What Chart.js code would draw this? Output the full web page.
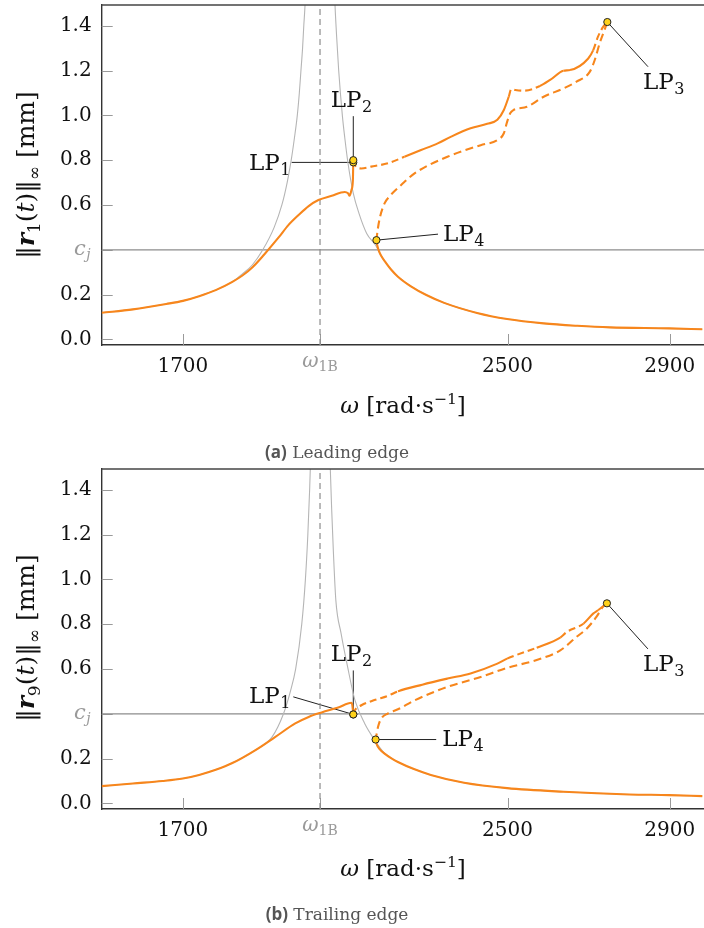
<!DOCTYPE html>
<html><head><meta charset="utf-8">
<script src="https://cdn.jsdelivr.net/npm/chart.js@4.4.1/dist/chart.umd.min.js"></script>
<style>
html,body{margin:0;padding:0;background:#fff;}
body{width:704px;height:928px;overflow:hidden;position:relative;font-family:'DejaVu Serif',serif;}
.wrap{position:absolute;left:0;width:715px;height:420px;}
.ytitle{position:absolute;white-space:nowrap;transform:translate(-50%,-50%) rotate(-90deg);font-size:25px;color:#111;}
.xtitle{position:absolute;white-space:nowrap;transform:translate(-50%,-50%);font-size:23px;color:#111;}
.cap{position:absolute;white-space:nowrap;transform:translate(-50%,-50%);font-size:17px;color:#555;}
.cap b{font-family:'Open Sans',sans-serif;font-weight:700;}
sub,sup{font-size:68%;line-height:0;}
</style></head>
<body>
<div class="wrap" style="top:0"><canvas id="cA" width="715" height="420"></canvas></div>
<div class="wrap" style="top:464px"><canvas id="cB" width="715" height="420"></canvas></div>

<div class="ytitle" style="left:25px;top:175px">‖<b><i>r</i></b><sub>1</sub>(<i>t</i>)‖<sub>∞</sub> [mm]</div>
<div class="xtitle" style="left:403px;top:405px"><i>ω</i> [rad·s<sup>−1</sup>]</div>
<div class="cap" style="left:337px;top:451px"><b>(a)</b> Leading edge</div>

<div class="ytitle" style="left:25px;top:638px">‖<b><i>r</i></b><sub>9</sub>(<i>t</i>)‖<sub>∞</sub> [mm]</div>
<div class="xtitle" style="left:403px;top:868px"><i>ω</i> [rad·s<sup>−1</sup>]</div>
<div class="cap" style="left:337px;top:913px"><b>(b)</b> Trailing edge</div>

<script>
// ---------- axis / tick data ----------
const omega1B = 2038;
const cj = 0.4;
const xTickValues = [1700, 2038, 2500, 2900];
const yTickValues = [0, 0.2, 0.4, 0.6, 0.8, 1.0, 1.2, 1.4];
const xRange = [1500, 3000];
const yRange = [-0.025, 1.4925];

// ---------- (a) leading edge, r1 ----------
const topLinearLeft = [[1500,0.119],[1577,0.134],[1659,0.158],[1700,0.172],[1740,0.193],[1781,0.220],[1822,0.257],[1846,0.2915],[1871,0.332],[1897,0.40],[1925,0.50],[1944,0.60],[1957,0.70],[1967,0.80],[1975,0.90],[1982,1.0],[1987,1.1],[1991,1.2],[1995,1.3],[1998,1.4],[2001,1.49],[2006,1.75]];
const topLinearRight = [[2070,1.75],[2075,1.49],[2079,1.35],[2084,1.2],[2093,1.0],[2099,0.9],[2107,0.786],[2120,0.652],[2134,0.5625],[2153,0.473],[2175,0.42],[2189,0.372],[2200,0.343],[2213,0.312],[2230,0.280],[2262,0.237],[2300,0.198],[2344,0.163],[2425,0.118],[2499,0.091],[2589,0.0714],[2672,0.0607],[2752,0.0536],[2898,0.049],[2980,0.045]];
const topMain = [[1500,0.119],[1577,0.134],[1659,0.158],[1700,0.172],[1740,0.193],[1781,0.220],[1822,0.257],[1846,0.284],[1871,0.321],[1900,0.378],[1936,0.455],[1960,0.51],[1985,0.555],[2010,0.595],[2034,0.622],[2067,0.641],[2099,0.658],[2107,0.652],[2111,0.641],[2115.5,0.667],[2119,0.711],[2119.7,0.770],[2120,0.790]];
const topUpper = [[2120,0.800],[2125,0.775],[2140,0.763],[2164,0.771],[2205,0.786],[2246,0.815],[2287,0.845],[2328,0.875],[2360,0.904],[2409,0.942],[2450,0.962],[2475,0.980],[2491,1.024],[2503,1.083],[2509,1.116],[2519,1.113],[2540,1.110],[2580,1.131],[2605,1.158],[2638,1.199],[2654,1.202],[2699,1.254],[2711,1.29],[2723,1.351],[2736,1.396],[2746,1.4165]];
const topLower = [[2746,1.4165],[2739,1.381],[2727,1.321],[2715,1.247],[2703,1.195],[2670,1.15],[2638,1.12],[2589,1.083],[2548,1.038],[2515,1.024],[2507,1.010],[2499,0.971],[2491,0.92],[2475,0.89],[2434,0.867],[2352,0.815],[2271,0.741],[2238,0.689],[2210,0.64],[2197,0.607],[2186,0.547],[2180,0.488],[2177,0.443]];
const topReturn = [[2177,0.443],[2179,0.42],[2183,0.395],[2189,0.372],[2200,0.343],[2213,0.312],[2230,0.280],[2262,0.237],[2300,0.198],[2344,0.163],[2425,0.118],[2499,0.091],[2589,0.0714],[2672,0.0607],[2752,0.0536],[2898,0.049],[2980,0.045]];
const topUnstable = [[2120,2228],[2505,2578],[2636,2660],[2712,2746]];
const topLP = [[2120,0.790],[2120,0.800],[2746,1.4165],[2177,0.443]];

// ---------- (b) trailing edge, r9 ----------
const botLinearLeft = [[1500,0.077],[1577,0.089],[1650,0.100],[1700,0.111],[1740,0.127],[1781,0.150],[1822,0.180],[1879,0.238],[1920,0.297],[1948,0.40],[1965,0.50],[1978,0.60],[1993,0.80],[2002,1.0],[2008,1.2],[2012.4,1.4],[2014,1.49],[2017,1.75]];
const botLinearRight = [[2060,1.75],[2063.4,1.49],[2067,1.3],[2071,1.12],[2077,0.906],[2090,0.758],[2106,0.609],[2124,0.461],[2148,0.357],[2173,0.282],[2197,0.224],[2230,0.185],[2271,0.152],[2311,0.127],[2393,0.092],[2499,0.068],[2638,0.052],[2800,0.040],[2898,0.037],[2980,0.0325]];
const botMain = [[1500,0.077],[1577,0.089],[1650,0.100],[1700,0.111],[1740,0.127],[1781,0.150],[1822,0.180],[1879,0.238],[1928,0.297],[1977,0.357],[2010,0.386],[2042,0.406],[2083,0.428],[2115.5,0.449],[2117.5,0.440],[2120,0.397]];
const botUpper = [[2120,0.397],[2124,0.416],[2140,0.438],[2172,0.461],[2205,0.48],[2230,0.50],[2290,0.53],[2352,0.557],[2409,0.58],[2475,0.624],[2499,0.646],[2572,0.695],[2630,0.74],[2646,0.765],[2687,0.802],[2711,0.847],[2723,0.862],[2745,0.893]];
const botLower = [[2745,0.893],[2735,0.877],[2719,0.832],[2695,0.78],[2670,0.743],[2630,0.683],[2572,0.64],[2499,0.605],[2434,0.564],[2352,0.52],[2271,0.46],[2230,0.42],[2205,0.401],[2189,0.379],[2181,0.342],[2177,0.304],[2175,0.285]];
const botReturn = [[2175,0.285],[2178,0.262],[2186,0.240],[2197,0.222],[2215,0.200],[2230,0.185],[2271,0.152],[2311,0.127],[2393,0.092],[2499,0.068],[2638,0.052],[2800,0.040],[2898,0.037],[2980,0.0325]];
const botUnstable = [[2120,2230],[2492,2572],[2638,2670],[2719,2746]];
const botLP = [[2120,0.397],[2120,0.397],[2745,0.893],[2175,0.285]];

const lpNames = ['1','2','3','4'];

// ---------- styling (pixel offsets of labels relative to LP markers) ----------
const ORANGE = '#f7861c';
const GRAYLIN = '#b5b5b5';
const REF = '#8c8c8c';
const topLabelLayout = [
  {lead:[-61.7,0], tx:-63.3, ty:7.6, align:'right'},
  {lead:[0,-44], tx:-2, ty:-53.3, align:'center'},
  {lead:[40.7,44.7], tx:35.7, ty:67.3, align:'left'},
  {lead:[61.6,-6], tx:66.6, ty:1, align:'left'}
];
const botLabelLayout = [
  {lead:[-60,-17.6], tx:-63.3, ty:-11, align:'right'},
  {lead:[0,-44], tx:-2, ty:-53.3, align:'center'},
  {lead:[41,45.6], tx:36, ty:68, align:'left'},
  {lead:[60.6,0], tx:66.6, ty:6.7, align:'left'}
];

const toXY = a => a.map(([x,y]) => ({x, y}));
const inRanges = (v, ranges) => ranges.some(([a,b]) => v >= a && v <= b);

function lineDS(points, color, width, order, extra) {
  return Object.assign({
    data: toXY(points), showLine: true, borderColor: color, backgroundColor: color,
    borderWidth: width, pointRadius: 0, pointHoverRadius: 0, order: order,
    cubicInterpolationMode: 'monotone', fill: false
  }, extra || {});
}

function drawLPLabel(ctx, x, y, num, align) {
  ctx.save();
  ctx.fillStyle = '#111';
  ctx.textBaseline = 'alphabetic';
  ctx.font = '23px "DejaVu Serif"';
  const w1 = ctx.measureText('LP').width;
  ctx.font = '16px "DejaVu Serif"';
  const w2 = ctx.measureText(num).width;
  const tot = w1 + w2;
  let x0 = x;
  if (align === 'right') x0 = x - tot;
  else if (align === 'center') x0 = x - tot / 2;
  ctx.textAlign = 'left';
  ctx.font = '23px "DejaVu Serif"';
  ctx.fillText('LP', x0, y);
  ctx.font = '16px "DejaVu Serif"';
  ctx.fillText(num, x0 + w1 + 0.5, y + 5);
  ctx.restore();
}

function makeDecor(lps, layout) {
  return {
    id: 'decor',
    beforeDatasetsDraw(chart) {
      const {ctx, chartArea: ca, scales: {x, y}} = chart;
      ctx.save();
      ctx.strokeStyle = '#9a9a9a';
      ctx.lineWidth = 1;
      xTickValues.forEach(v => {
        const px = Math.round(x.getPixelForValue(v)) + 0.5;
        ctx.beginPath(); ctx.moveTo(px, ca.bottom); ctx.lineTo(px, ca.bottom - 11); ctx.stroke();
      });
      yTickValues.forEach(v => {
        const py = Math.round(y.getPixelForValue(v)) + 0.5;
        ctx.beginPath(); ctx.moveTo(ca.left, py); ctx.lineTo(ca.left + 11, py); ctx.stroke();
      });
      ctx.strokeStyle = '#222';
      ctx.lineWidth = 1;
      lps.forEach((p, i) => {
        const px = x.getPixelForValue(p[0]), py = y.getPixelForValue(p[1]);
        const L = layout[i];
        ctx.beginPath(); ctx.moveTo(px, py); ctx.lineTo(px + L.lead[0], py + L.lead[1]); ctx.stroke();
      });
      ctx.restore();
    },
    afterDraw(chart) {
      const {ctx, chartArea: ca, scales: {x, y}} = chart;
      ctx.save();
      ctx.strokeStyle = '#444'; ctx.lineWidth = 1.4;
      ctx.beginPath(); ctx.moveTo(ca.left, ca.top); ctx.lineTo(ca.right, ca.top); ctx.stroke();
      lps.forEach((p, i) => {
        const px = x.getPixelForValue(p[0]), py = y.getPixelForValue(p[1]);
        const L = layout[i];
        drawLPLabel(ctx, px + L.tx, py + L.ty, lpNames[i], L.align);
      });
      ctx.fillStyle = '#9a9a9a';
      ctx.textBaseline = 'alphabetic';
      const cy = y.getPixelForValue(cj);
      ctx.font = 'italic 14px "DejaVu Serif"';
      const wj = ctx.measureText('j').width;
      ctx.textAlign = 'right';
      ctx.fillText('j', ca.left - 11, cy + 9);
      ctx.font = 'italic 21px "DejaVu Serif"';
      ctx.fillText('c', ca.left - 11 - wj - 0.5, cy + 5.5);
      const ox = x.getPixelForValue(omega1B);
      ctx.font = 'italic 20px "DejaVu Serif"';
      const wo = ctx.measureText('ω').width;
      ctx.font = '14px "DejaVu Serif"';
      const ws = ctx.measureText('1B').width;
      const x0 = ox - (wo + ws) / 2;
      ctx.textAlign = 'left';
      ctx.font = 'italic 20px "DejaVu Serif"';
      ctx.fillText('ω', x0, ca.bottom + 21.5);
      ctx.font = '14px "DejaVu Serif"';
      ctx.fillText('1B', x0 + wo, ca.bottom + 26);
      ctx.restore();
    }
  };
}

function build(id, d) {
  const datasets = [
    lineDS(d.lp, '#222', 1, 0, {showLine: false, pointRadius: 3.6, pointBackgroundColor: '#ffd21a', pointBorderColor: '#222', pointBorderWidth: 1}),
    lineDS(d.main, ORANGE, 2.1, 1),
    lineDS(d.upper, ORANGE, 2.1, 1, {segment: {borderDash: c => inRanges((c.p0.parsed.x + c.p1.parsed.x) / 2, d.unstable) ? [7, 4] : undefined}}),
    lineDS(d.lower, ORANGE, 2.1, 1, {borderDash: [8, 4.5]}),
    lineDS(d.ret, ORANGE, 2.1, 1),
    lineDS(d.linL, GRAYLIN, 1.1, 3),
    lineDS(d.linR, GRAYLIN, 1.1, 3),
    lineDS([[xRange[0], cj], [xRange[1], cj]], REF, 1.3, 4, {cubicInterpolationMode: 'default', tension: 0}),
    lineDS([[omega1B, yRange[0]], [omega1B, yRange[1]]], REF, 1.2, 4, {cubicInterpolationMode: 'default', tension: 0, borderDash: [6, 4]})
  ];
  const tickFont = {family: 'DejaVu Serif', size: 20};
  return new Chart(document.getElementById(id), {
    type: 'scatter',
    data: {datasets},
    options: {
      responsive: false, animation: false, devicePixelRatio: 1,
      layout: {padding: {top: 5, left: 0, right: 0, bottom: 0}},
      plugins: {legend: {display: false}, tooltip: {enabled: false}},
      events: [],
      scales: {
        x: {
          type: 'linear', min: xRange[0], max: xRange[1],
          grid: {display: false, drawTicks: false},
          border: {display: true, color: '#333', width: 1.4},
          afterBuildTicks: s => { s.ticks = xTickValues.map(v => ({value: v})); },
          afterFit: s => { s.height = 75; s.paddingLeft = 0; s.paddingRight = 0; },
          ticks: {autoSkip: false, maxRotation: 0, padding: 10, color: '#111', font: tickFont,
                  callback: v => (v === omega1B ? '' : String(v))}
        },
        y: {
          type: 'linear', min: yRange[0], max: yRange[1],
          grid: {display: false, drawTicks: false},
          border: {display: true, color: '#333', width: 1.4},
          afterBuildTicks: s => { s.ticks = yTickValues.map(v => ({value: v})); },
          afterFit: s => { s.width = 101.7; s.paddingTop = 0; s.paddingBottom = 0; },
          ticks: {autoSkip: false, padding: 10, color: '#111', font: tickFont,
                  callback: v => (Math.abs(v - cj) < 1e-9 ? '' : v.toFixed(1))}
        }
      }
    },
    plugins: [makeDecor(d.lpPts, d.layout)]
  });
}

build('cA', {lp: topLP, lpPts: topLP, main: topMain, upper: topUpper, lower: topLower, ret: topReturn,
             linL: topLinearLeft, linR: topLinearRight, unstable: topUnstable, layout: topLabelLayout});
build('cB', {lp: botLP, lpPts: botLP, main: botMain, upper: botUpper, lower: botLower, ret: botReturn,
             linL: botLinearLeft, linR: botLinearRight, unstable: botUnstable, layout: botLabelLayout});
</script>
</body></html>
